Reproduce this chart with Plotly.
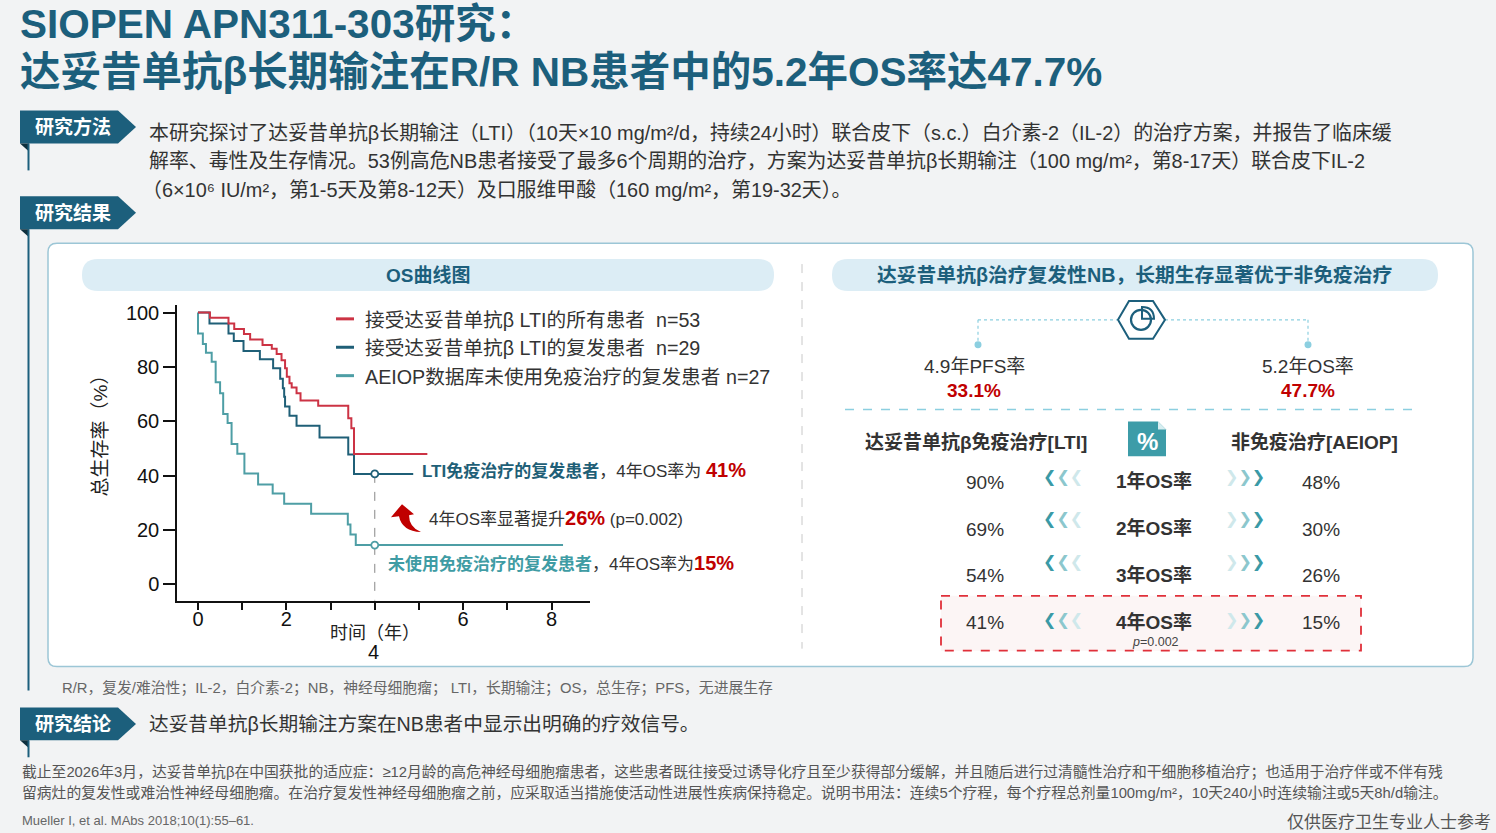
import plotly.graph_objects as go

W, H = 1496, 833

# ---------------- data ----------------
red_t = [0, 0.27, 0.69, 0.82, 1.04, 1.18, 1.46, 1.67, 1.78, 1.89, 1.97, 2.01, 2.07, 2.12, 2.23, 2.32, 2.72, 3.40, 3.47, 3.53, 5.19]
red_v = [100, 98.1, 96.0, 93.9, 92.1, 90.1, 88.0, 86.7, 84.7, 82.4, 79.5, 76.4, 74.0, 72.4, 70.3, 67.6, 65.7, 61.1, 57.4, 47.9, 47.9]

blue_t = [0, 0.26, 0.69, 0.81, 1.03, 1.40, 1.70, 1.86, 1.92, 1.95, 1.97, 2.07, 2.23, 2.75, 3.40, 3.53, 4.87]
blue_v = [100, 96.0, 92.3, 89.5, 85.8, 82.8, 79.5, 75.6, 72.1, 69.0, 65.4, 62.0, 58.3, 54.0, 47.7, 40.6, 40.6]

teal_t = [0, 0, 0.11, 0.18, 0.31, 0.40, 0.50, 0.57, 0.67, 0.76, 0.89, 1.05, 1.36, 1.69, 1.95, 2.56, 3.39, 3.45, 3.57, 8.26]
teal_v = [100, 92.3, 88.4, 85.2, 81.9, 74.3, 70.3, 62.6, 59.3, 51.6, 48.0, 40.7, 36.7, 33.4, 29.6, 25.9, 22.0, 18.3, 14.4, 14.4]

marker_t = [4, 4]
marker_v = [40.6, 14.4]

x_tickvals = [0, 1, 2, 3, 4, 5, 6, 7, 8]
x_ticktext = ["0", "", "2", "", "", "", "6", "", "8"]
y_tickvals = [0, 20, 40, 60, 80, 100]

legend_names = ["接受达妥昔单抗β LTI的所有患者  n=53",
                "接受达妥昔单抗β LTI的复发患者  n=29",
                "AEIOP数据库未使用免疫治疗的复发患者 n=27"]

row_labels = ["1年OS率", "2年OS率", "3年OS率", "4年OS率"]
lti_rates = ["90%", "69%", "54%", "41%"]
aeiop_rates = ["48%", "30%", "26%", "15%"]

# ---------------- styles ----------------
C_RED = "#cc3344"
C_BLUE = "#1f5f77"
C_TEAL = "#4e9ea5"
C_HEAD = "#1c5f7c"
C_TXT = "#333333"
C_HL = "#c00000"
FONT = "Liberation Sans, Noto Sans CJK SC, sans-serif"


def X(x):
    return x / W


def Y(y):
    return 1 - y / H


def pth(cmds):
    out = []
    for c in cmds:
        if isinstance(c, str):
            out.append(c)
        else:
            out.append(f"{X(c[0]):.5f},{Y(c[1]):.5f}")
    return " ".join(out)


def rrect(x0, y0, x1, y1, r):
    return pth(["M", (x0 + r, y0), "L", (x1 - r, y0), "Q", (x1, y0), (x1, y0 + r),
                "L", (x1, y1 - r), "Q", (x1, y1), (x1 - r, y1), "L", (x0 + r, y1),
                "Q", (x0, y1), (x0, y1 - r), "L", (x0, y0 + r), "Q", (x0, y0), (x0 + r, y0), "Z"])


shapes = []
annos = []


def add_path(d, fill=None, line=None, lw=0, dash=None, layer="below"):
    shp = dict(type="path", xref="paper", yref="paper", path=d, layer=layer,
               fillcolor=fill if fill else "rgba(0,0,0,0)",
               line=dict(color=line if line else "rgba(0,0,0,0)", width=lw))
    if dash:
        shp["line"]["dash"] = dash
    shapes.append(shp)


def add_line(x0, y0, x1, y1, color, w=1, dash=None, layer="below"):
    shp = dict(type="line", xref="paper", yref="paper", x0=X(x0), y0=Y(y0), x1=X(x1), y1=Y(y1),
               line=dict(color=color, width=w), layer=layer)
    if dash:
        shp["line"]["dash"] = dash
    shapes.append(shp)


def txt(x, y, text, size=19, color=C_TXT, xa="left", ya="middle", family=FONT, angle=0):
    annos.append(dict(x=X(x), y=Y(y), xref="paper", yref="paper", text=text, showarrow=False,
                      xanchor=xa, yanchor=ya, textangle=angle,
                      font=dict(size=size, color=color, family=family)))


# ---------------- header ----------------
txt(18, 21, "<b>SIOPEN APN311-303研究：</b>", size=40.5, color=C_HEAD)
txt(18, 69, "<b>达妥昔单抗β长期输注在R/R NB患者中的5.2年OS率达47.7%</b>", size=40.5, color=C_HEAD)


def tag(y0, label, line_to):
    y1 = y0 + 33
    add_path(pth(["M", (20, y0), "L", (118, y0), "L", (136, (y0 + y1) / 2), "L", (118, y1),
                  "L", (20, y1), "Z"]), fill=C_HEAD)
    add_path(pth(["M", (20, y1), "L", (29, y1), "L", (29, y1 + 8), "Z"]), fill="#0e2f3d")
    add_line(28.5, y1, 28.5, line_to, C_HEAD, 2)
    txt(73, (y0 + y1) / 2, f"<b>{label}</b>", size=19, color="white", xa="center")


tag(108, "研究方法", 168)
tag(194, "研究结果", 690)
tag(707, "研究结论", 757)

body = ["本研究探讨了达妥昔单抗β长期输注（LTI）（10天×10 mg/m²/d，持续24小时）联合皮下（s.c.）白介素-2（IL-2）的治疗方案，并报告了临床缓",
        "解率、毒性及生存情况。53例高危NB患者接受了最多6个周期的治疗，方案为达妥昔单抗β长期输注（100 mg/m²，第8-17天）联合皮下IL-2",
        "（6×10⁶ IU/m²，第1-5天及第8-12天）及口服维甲酸（160 mg/m²，第19-32天）。"]
for i, s in enumerate(body):
    txt(147 if i < 2 else 140, 130 + 29 * i, s, size=19.9)

# ---------------- main panel ----------------
add_path(rrect(48, 241, 1473, 666, 9), fill="white", line="#9cc6d6", lw=1.5)
add_path(rrect(82, 257, 774, 289, 16), fill="#dcedf5")
add_path(rrect(832, 257, 1438, 289, 16), fill="#dcedf5")
txt(428, 273, "<b>OS曲线图</b>", size=19, color=C_HEAD, xa="center")
txt(1135, 273, "<b>达妥昔单抗β治疗复发性NB，长期生存显著优于非免疫治疗</b>", size=19.8, color=C_HEAD, xa="center")
add_line(802, 262, 802, 648, "#c8c8c8", 1, dash="dash")

# hexagon icon + connectors
C_LB = "#8ccfe0"
add_line(978, 318, 1117, 318, C_LB, 1.2, dash="dot")
add_line(1165, 318, 1308, 318, C_LB, 1.2, dash="dot")
add_line(978, 318, 978, 343, C_LB, 1.2, dash="dot")
add_line(1308, 318, 1308, 343, C_LB, 1.2, dash="dot")
for cx in (978, 1308):
    shapes.append(dict(type="circle", xref="paper", yref="paper", x0=X(cx - 3.5), x1=X(cx + 3.5),
                       y0=Y(343 + 3.5), y1=Y(343 - 3.5), fillcolor=C_LB, line=dict(width=0)))
add_path(pth(["M", (1118, 318), "L", (1129, 299), "L", (1153, 299), "L", (1165, 318), "L", (1153, 337),
              "L", (1129, 337), "Z"]), fill="white", line=C_HEAD, lw=2)
shapes.append(dict(type="circle", xref="paper", yref="paper", x0=X(1131), x1=X(1151),
                   y0=Y(328), y1=Y(308), fillcolor="rgba(0,0,0,0)", line=dict(color=C_HEAD, width=2.2)))
add_path(pth(["M", (1142, 317), "L", (1142, 305), "Q", (1154, 305), (1154, 317), "Z"]), fill="white",
         line=C_HEAD, lw=2)

txt(974, 365, "4.9年PFS率", size=19, xa="center")
txt(974, 389, "<b>33.1%</b>", size=19, color=C_HL, xa="center")
txt(1308, 365, "5.2年OS率", size=19, xa="center")
txt(1308, 389, "<b>47.7%</b>", size=19, color=C_HL, xa="center")
add_line(845, 408, 1418, 408, C_LB, 1.5, dash="dash")

txt(976, 441, "<b>达妥昔单抗β免疫治疗[LTI]</b>", size=19, xa="center")
txt(1314, 441, "<b>非免疫治疗[AEIOP]</b>", size=19, xa="center")
# % icon
add_path(pth(["M", (1128, 420), "L", (1158, 420), "L", (1166, 428), "L", (1166, 455), "L", (1128, 455), "Z"]),
         fill="#3d9ca8")
add_path(pth(["M", (1158, 420), "L", (1166, 428), "L", (1158, 428), "Z"]), fill="#d7eef1")
txt(1147, 440, "<b>%</b>", size=24, color="white", xa="center")

# highlight box
add_path(pth(["M", (941, 595), "L", (1361, 595), "L", (1361, 650), "L", (941, 650), "Z"]),
         fill="#fcf5f5", line="#e0303a", lw=1.8, dash="dash")

row_y = [481, 528, 575, 622]
arr_y = [475, 517, 561, 619]
left_arrows = ("<b><span style='color:#3a9aa6'>❮</span><span style='color:#8cc7cd'>❮</span>"
               "<span style='color:#cfe8eb'>❮</span></b>")
right_arrows = ("<b><span style='color:#cfe8eb'>❯</span><span style='color:#8cc7cd'>❯</span>"
                "<span style='color:#3a9aa6'>❯</span></b>")
for i in range(4):
    txt(985, row_y[i], lti_rates[i], size=19, xa="center")
    txt(1321, row_y[i], aeiop_rates[i], size=19, xa="center")
    txt(1154, row_y[i] - 1, f"<b>{row_labels[i]}</b>", size=19, xa="center")
    txt(1063, arr_y[i], left_arrows, size=16, xa="center", family="DejaVu Sans")
    txt(1245, arr_y[i], right_arrows, size=16, xa="center", family="DejaVu Sans")
txt(1155, 641, "<i>p</i>=0.002", size=12.5, color="#444", xa="center")

# ---------------- KM chart ----------------
# legend
for i, (c, nm) in enumerate(zip([C_RED, C_BLUE, C_TEAL], legend_names)):
    yy = 318 + 28.5 * i
    add_line(336, yy - 1, 354, yy - 1, c, 3, layer="above")
    txt(363, yy, nm, size=19.7)

txt(100, 430, "总生存率（%）", size=19, color="#222", xa="center", angle=-90)
txt(375, 632, "时间（年）", size=18, color="#222", xa="center")
txt(373, 651, "4", size=20, color="#111", xa="center", family="Liberation Sans")

txt(420, 469, "<b><span style='color:#1f5f77'>LTI免疫治疗的复发患者</span></b>，4年OS率为 "
              "<b><span style='color:#c00000;font-size:20px'>41%</span></b>", size=17)
txt(427, 517, "4年OS率显著提升<b><span style='color:#c00000;font-size:20px'>26%</span></b> (p=0.002)", size=17)
txt(386, 562, "<b><span style='color:#3f9ca4'>未使用免疫治疗的复发患者</span></b>，4年OS率为"
              "<b><span style='color:#c00000;font-size:20px'>15%</span></b>", size=17)
# curved arrow
add_path(pth(["M", (391, 516), "L", (402, 503), "L", (414, 513), "L", (409, 514), "Q", (409, 526), (421, 531),
              "Q", (402, 530), (399, 515), "Z"]), fill="#c00000", layer="above")

fig = go.Figure()
# dashed guide at 4 years
fig.add_trace(go.Scatter(x=[4, 4], y=[40.6, -6.1], mode="lines",
                         line=dict(color="#888", width=1, dash="dash"), hoverinfo="skip", showlegend=False))
fig.add_trace(go.Scatter(x=teal_t, y=teal_v, mode="lines", line=dict(color=C_TEAL, width=2, shape="hv"),
                         showlegend=False))
fig.add_trace(go.Scatter(x=blue_t, y=blue_v, mode="lines", line=dict(color=C_BLUE, width=2, shape="hv"),
                         showlegend=False))
fig.add_trace(go.Scatter(x=red_t, y=red_v, mode="lines", line=dict(color=C_RED, width=2, shape="hv"),
                         showlegend=False))
fig.add_trace(go.Scatter(x=marker_t, y=marker_v, mode="markers",
                         marker=dict(size=7, color="white", line=dict(width=1.8, color=[C_BLUE, C_TEAL])),
                         showlegend=False))

# footnotes
txt(60, 687, "R/R，复发/难治性；IL-2，白介素-2；NB，神经母细胞瘤； LTI，长期输注；OS，总生存；PFS，无进展生存",
    size=14.8, color="#666")
txt(147, 724, "达妥昔单抗β长期输注方案在NB患者中显示出明确的疗效信号。", size=19.7)
txt(20, 772, "截止至2026年3月，达妥昔单抗β在中国获批的适应症：≥12月龄的高危神经母细胞瘤患者，这些患者既往接受过诱导化疗且至少获得部分缓解，"
             "并且随后进行过清髓性治疗和干细胞移植治疗；也适用于治疗伴或不伴有残", size=14.8, color="#555")
txt(20, 792, "留病灶的复发性或难治性神经母细胞瘤。在治疗复发性神经母细胞瘤之前，应采取适当措施使活动性进展性疾病保持稳定。说明书用法：连续5个疗程，"
             "每个疗程总剂量100mg/m²，10天240小时连续输注或5天8h/d输注。", size=14.8, color="#555")
txt(20, 820, "Mueller I, et al. MAbs 2018;10(1):55–61.", size=13, color="#666")
txt(1493, 822, "仅供医疗卫生专业人士参考", size=17, color="#555", xa="right")

fig.update_layout(
    width=W, height=H, margin=dict(l=0, r=0, t=0, b=0),
    paper_bgcolor="#f2f3f4", plot_bgcolor="rgba(0,0,0,0)",
    font=dict(family=FONT),
    shapes=shapes, annotations=annos,
    xaxis=dict(domain=[X(177), X(590)], range=[-0.475, 8.87], tickmode="array", tickvals=x_tickvals,
               ticktext=x_ticktext, ticks="outside", ticklen=7, tickwidth=1.5, tickcolor="#111",
               showline=True, linecolor="#111", linewidth=1.5, showgrid=False, zeroline=False,
               ticklabelstandoff=-8,
               tickfont=dict(size=20, color="#111", family="Liberation Sans")),
    yaxis=dict(domain=[Y(600), Y(303)], range=[-6.13, 102.8], tickmode="array", tickvals=y_tickvals,
               ticks="outside", ticklen=12, tickwidth=1.5, tickcolor="#111",
               showline=True, linecolor="#111", linewidth=1.5, showgrid=False, zeroline=False,
               tickfont=dict(size=20, color="#111", family="Liberation Sans")),
)

fig.write_html("out.html", config={"displayModeBar": False},
               post_script="document.body.style.margin='0';document.body.style.overflow='hidden';"
                           "document.body.style.background='#f2f3f4';")
